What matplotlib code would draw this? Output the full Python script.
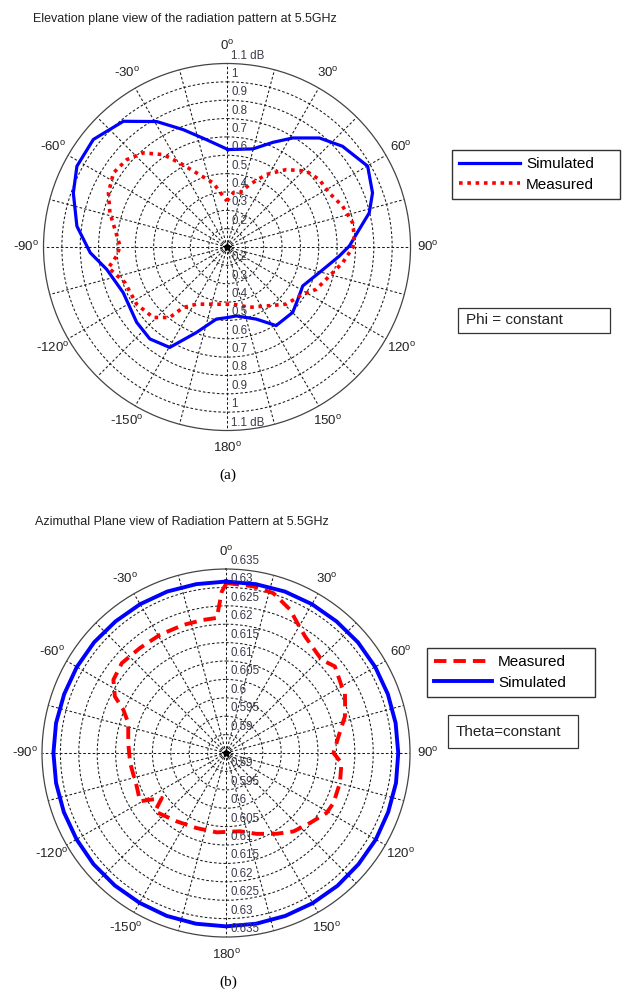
import numpy as np
import matplotlib
matplotlib.use('Agg')
import matplotlib.pyplot as plt
from matplotlib.patches import Rectangle
from matplotlib.transforms import offset_copy

plt.rcParams['font.family'] = ['Liberation Sans', 'DejaVu Sans']
plt.rcParams['mathtext.default'] = 'regular'

# ============================================================
# DATA - (a) elevation plane
# ============================================================
elev_sim_deg = [0.6, 14.8, 23.7, 31.1, 40.3, 48.9, 60.1, 69.6, 76.5, 82.4, 89.5, 94.6,
                105.5, 117.2, 126.4, 134.9, 148.0, 157.9, 172.3, 179.2, 188.4, 199.7,
                209.7, 220.0, 230.2, 246.3, 259.5, 267.6, 277.9, 289.4, 298.3, 308.8,
                320.5, 330.7, 339.5, 349.1]
elev_sim_r = [0.631, 0.653, 0.723, 0.794, 0.879, 0.935, 0.984, 0.946, 0.897, 0.827, 0.767, 0.714,
              0.622, 0.564, 0.580, 0.605, 0.605, 0.524, 0.479, 0.484, 0.497, 0.595,
              0.730, 0.754, 0.741, 0.718, 0.767, 0.846, 0.926, 0.988, 1.029, 1.035,
              0.988, 0.884, 0.783, 0.696]

elev_meas_deg = [0.0, 7.0, 13.1, 19.9, 28.4, 37.4, 46.2, 53.9, 62.1, 70.5, 79.1, 85.1, 90.3,
                 97.7, 105.8, 115.4, 121.9, 134.0, 144.1, 159.5, 174.0, 190.5, 208.1,
                 216.0, 219.1, 226.3, 237.7, 250.8, 260.1, 265.4, 270.5, 278.9, 286.3,
                 294.5, 303.1, 311.0, 318.3, 325.4, 330.7, 337.6, 347.7, 353.0]
elev_meas_r = [0.35, 0.40, 0.403, 0.462, 0.549, 0.631, 0.698, 0.723, 0.730, 0.768, 0.797, 0.796, 0.785,
               0.736, 0.680, 0.638, 0.587, 0.548, 0.495, 0.451, 0.413, 0.417, 0.453,
               0.508, 0.595, 0.656, 0.683, 0.689, 0.756, 0.703, 0.683, 0.718, 0.765,
               0.810, 0.839, 0.825, 0.787, 0.712, 0.625, 0.537, 0.458, 0.40]

elev_rings = [0.2, 0.3, 0.4, 0.5, 0.6, 0.7, 0.8, 0.9, 1.0, 1.1]
elev_rlim = (0.1, 1.1)

# ============================================================
# DATA - (b) azimuthal plane
# ============================================================
azim_sim_deg = [0, 10, 20, 30, 40, 50, 60, 70, 80, 90, 100, 110, 120, 130, 140, 150, 160, 170,
                180, 190, 200, 210, 220, 230, 240, 250, 260, 270, 280, 290, 300, 310, 320, 330, 340, 350]
azim_sim_r = [0.6316, 0.6316, 0.6317, 0.6317, 0.6317, 0.6318, 0.6318, 0.6318, 0.6318, 0.6318,
              0.6319, 0.6319, 0.6320, 0.6320, 0.6321, 0.6321, 0.6321, 0.6321,
              0.6321, 0.6321, 0.6321, 0.6320, 0.6320, 0.6320, 0.6319, 0.6319, 0.6319, 0.6319,
              0.6319, 0.6318, 0.6318, 0.6318, 0.6317, 0.6317, 0.6317, 0.6316]

azim_meas_deg = [0.2, 9.3, 16.5, 24.0, 29.0, 34.1, 42.2, 45.7, 51.5, 60.0, 63.2, 67.2, 72.9,
                 81.6, 90.0, 94.9, 104.7, 115.0, 120.8, 129.8, 139.3, 147.9, 159.2,
                 169.9, 186.7, 201.4, 215.8, 230.6, 235.0, 240.7, 249.5, 264.1, 275.8,
                 287.1, 292.9, 297.0, 303.0, 310.8, 320.7, 330.8, 341.6, 350.3, 356.1, 358.5]
azim_meas_r = [0.6312, 0.6309, 0.6303, 0.6277, 0.6252, 0.6233, 0.6217, 0.6213, 0.6228, 0.6213, 0.6212, 0.6201, 0.6188,
               0.6159, 0.6142, 0.6165, 0.6170, 0.6172, 0.6168, 0.6147, 0.6131, 0.6109, 0.6085,
               0.6066, 0.6067, 0.6069, 0.6079, 0.6100, 0.6063, 0.6118, 0.6109, 0.6112, 0.6117,
               0.6128, 0.6153, 0.6189, 0.6215, 0.6224, 0.6219, 0.6218, 0.6217, 0.6217, 0.6218, 0.6289]

azim_rings = [0.59, 0.595, 0.6, 0.605, 0.61, 0.615, 0.62, 0.625, 0.63, 0.635]
azim_rlim = (0.585, 0.635)

angle_ticks = [0, 30, 60, 90, 120, 150, 180, 210, 240, 270, 300, 330]
angle_labels = ['0', '30', '60', '90', '120', '150', '180', '-150', '-120', '-90', '-60', '-30']


def closed(deg, r):
  t = np.deg2rad(list(deg) + [deg[0]])
  return t, list(r) + [r[0]]


def setup_polar(ax, rings, rlim, suffix):
  ax.set_theta_zero_location('N')
  ax.set_theta_direction(-1)
  ax.set_ylim(*rlim)
  ax.set_yticks(rings[:-1])
  ax.set_yticklabels([])
  ax.set_xticks(np.deg2rad(np.arange(0, 360, 15)))
  ax.set_xticklabels([])
  ax.grid(True, color='#1a1a1a', lw=0.75, linestyle=(0, (2.5, 2.0)))
  ax.spines['polar'].set_color('#444444')
  ax.spines['polar'].set_linewidth(0.9)
  ax.plot([0], [rlim[0]], marker='*', color='black', ms=6)
  span = rlim[1] - rlim[0]
  for a, lab in zip(angle_ticks, angle_labels):
    ax.text(np.deg2rad(a), rlim[1] + 0.095 * span, lab + '$^{o}$', ha='center', va='center',
            fontsize=9.5, color='#222222', clip_on=False)
  tr = offset_copy(ax.transData, fig=ax.figure, x=4, y=8, units='dots')
  for v in rings:
    lab = f'{v:g}' + (suffix if v == rings[-1] else '')
    for th in (0.0, np.pi):
      ax.text(th, v, lab, transform=tr, ha='left', va='center', fontsize=8.3,
              color='#3a3a4a', clip_on=False)


def note_box(fig, x0, y0, x1, y1, text):
  # fixed size box in pixel coords of the 628x992 image
  fig.patches.append(Rectangle((x0 / 628, 1 - y1 / 992), (x1 - x0) / 628, (y1 - y0) / 992,
                               transform=fig.transFigure, fc='white', ec='#333333', lw=0.9))
  fig.text((x0 + 8) / 628, 1 - (y0 + y1) / 2 / 992, text, ha='left', va='center',
           fontsize=11, color='#222222')


fig = plt.figure(figsize=(6.28, 9.92), dpi=100)

# ============================================================
# (a) Elevation plane
# ============================================================
ax1 = fig.add_axes([0.0693, 0.566, 0.5844, 0.370], projection='polar')
setup_polar(ax1, elev_rings, elev_rlim, ' dB')
t, r = closed(elev_sim_deg, elev_sim_r)
ax1.plot(t, r, color='#0000ff', lw=2.3, label='Simulated')
t, r = closed(elev_meas_deg, elev_meas_r)
ax1.plot(t, r, color='#ff0000', lw=2.6, linestyle=(0, (1.0, 1.3)), label='Measured')
ax1.legend(loc='upper left', bbox_to_anchor=(452 / 628, 1 - 200 / 992, 168 / 628, 50 / 992),
           bbox_transform=fig.transFigure, mode='expand',
           borderaxespad=0, fancybox=False, edgecolor='#333333', fontsize=11, handlelength=4.0,
           framealpha=1, borderpad=0.45, labelspacing=0.45, handletextpad=0.4)
fig.text(33 / 628, 1 - 19 / 992, 'Elevation plane view of the radiation pattern at 5.5GHz',
         ha='left', va='center', fontsize=9, color='#222222')
note_box(fig, 458, 308, 610, 333, 'Phi = constant')
fig.text(228 / 628, 1 - 475 / 992, '(a)', ha='center', va='center', fontsize=11,
         family='Liberation Serif')

# ============================================================
# (b) Azimuthal plane
# ============================================================
ax2 = fig.add_axes([0.0669, 0.0554, 0.586, 0.371], projection='polar')
setup_polar(ax2, azim_rings, azim_rlim, '')
t, r = closed(azim_meas_deg, azim_meas_r)
ax2.plot(t, r, color='#ff0000', lw=2.8, linestyle=(0, (3.2, 1.8)), label='Measured')
t, r = closed(azim_sim_deg, azim_sim_r)
ax2.plot(t, r, color='#0000ff', lw=2.8, label='Simulated')
ax2.legend(loc='upper left', bbox_to_anchor=(427 / 628, 1 - 700 / 992, 168 / 628, 52 / 992),
           bbox_transform=fig.transFigure, mode='expand',
           borderaxespad=0, fancybox=False, edgecolor='#333333', fontsize=11, handlelength=3.8,
           framealpha=1, borderpad=0.45, labelspacing=0.45, handletextpad=0.4)
fig.text(35 / 628, 1 - 522 / 992, 'Azimuthal Plane view of Radiation Pattern at 5.5GHz',
         ha='left', va='center', fontsize=9, color='#222222')
note_box(fig, 448, 715, 578, 748, 'Theta=constant')
fig.text(228 / 628, 1 - 982 / 992, '(b)', ha='center', va='center', fontsize=11,
         family='Liberation Serif')

plt.savefig('out.png', dpi=100)
